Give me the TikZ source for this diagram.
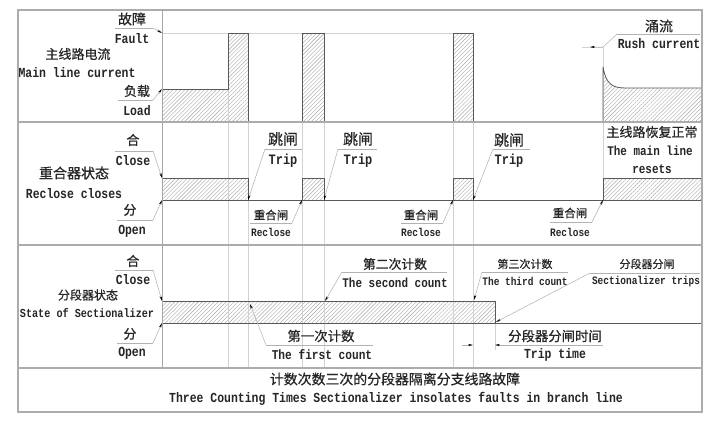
\documentclass[tikz,border=0pt]{standalone}
\usepackage{fontspec}
\setmonofont{Liberation Mono}[FakeStretch=0.83]
\newfontfamily\cjk{Noto Sans CJK SC}[FakeBold=0.6]
\usetikzlibrary{arrows.meta,patterns.meta}
\begin{document}
\begin{tikzpicture}[x=1pt,y=-1pt,
  frame/.style={draw=gray!65,line width=1.3pt},
  wave/.style={draw=black!65,line width=0.8pt},
  hatch/.style={pattern={Lines[angle=45,distance=2.8pt,line width=0.4pt]},pattern color=gray!70},
  gridln/.style={draw=gray!35,line width=0.5pt},
  ul/.style={draw=gray!60,line width=0.5pt},
  lead/.style={draw=gray!60,line width=0.5pt,-{Stealth[length=5pt,width=2.2pt,black]}},
  zh/.style={font=\cjk\fontsize{#1}{#1}\selectfont,inner sep=0pt,text=black!85},
  zh/.default=13,
  en/.style={font=\ttfamily\bfseries\fontsize{\fpeval{1.2*#1}}{\fpeval{1.2*#1}}\selectfont,inner sep=0pt,text=black!85},
  en/.default=11.5,
]
\useasboundingbox (0,0) rectangle (723,429);
\fill[white] (0,0) rectangle (723,429);

% ---------- hatched areas ----------
\fill[hatch] (162,122) -- (162,89) -- (228,89) -- (228,33) -- (248,33) -- (248,122) -- cycle;
\fill[hatch] (302,122) rectangle (324,33);
\fill[hatch] (453,122) rectangle (473,33);
\fill[hatch] (603,122) -- (603,67) .. controls (606,84) and (612,88) .. (626,88) -- (702,88) -- (702,122) -- cycle;
\fill[hatch] (162,178) rectangle (248,200);
\fill[hatch] (302,178) rectangle (324,200);
\fill[hatch] (453,178) rectangle (473,200);
\fill[hatch] (603,178) rectangle (702,200);
\fill[hatch] (162,301) rectangle (495,323);

% ---------- grid lines ----------
\foreach \gx in {228,248,302,324,453,473} {
  \draw[gridln] (\gx,33) -- (\gx,367);
}
\draw[gridln] (603,47) -- (603,200);
\draw[gridln] (495,323) -- (495,350);
\draw[gridln] (162,33) -- (473,33);

% ---------- waveforms ----------
\draw[wave] (162,89) -- (228,89) -- (228,33) -- (248,33) -- (248,122);
\draw[wave] (302,122) -- (302,33) -- (324,33) -- (324,122);
\draw[wave] (453,122) -- (453,33) -- (473,33) -- (473,122);
\draw[wave] (603,122) -- (603,67) .. controls (606,84) and (612,88) .. (626,88) -- (702,88);
\draw[wave] (162,178) -- (248,178) -- (248,200);
\draw[wave] (302,200) -- (302,178) -- (324,178) -- (324,200);
\draw[wave] (453,200) -- (453,178) -- (473,178) -- (473,200);
\draw[wave] (603,200) -- (603,178) -- (702,178);
\draw[wave] (162,200) -- (702,200);
\draw[wave] (162,301) -- (495,301) -- (495,323);
\draw[wave] (162,323) -- (702,323);

% ---------- frame ----------
\draw[frame] (18,10) rectangle (702,412);
\draw[frame] (18,122) -- (702,122);
\draw[frame] (18,245) -- (702,245);
\draw[frame] (18,368) -- (702,368);
\draw[draw=gray!70,line width=0.8pt] (162,10) -- (162,368);

% ---------- row 1 labels ----------
\node[zh] (l1) at (78,54) {主线路电流};
\node[en] (l1e) at (77,73) {Main line current};
\node[zh=14] (fz) at (132,19) {故障};
\node[en] (fe) at (132,39) {Fault};
\coordinate (fa) at (115,28); \coordinate (fb) at (153,28); \coordinate (ft) at (162,33);
\draw[ul] (fa) -- (fb);
\draw[lead] (fb) -- (ft);
\node[zh] (lz) at (137,91) {负载};
\node[en] (le) at (137,111) {Load};
\coordinate (la) at (118,100); \coordinate (lb) at (153,100); \coordinate (lt) at (162,89);
\draw[ul] (la) -- (lb);
\draw[lead] (lb) -- (lt);
\node[zh=14] (rz) at (659,26) {涌流};
\node[en] (re) at (659,44) {Rush current};
\coordinate (ra) at (617,34); \coordinate (rb) at (700,34);
\coordinate (rc) at (603,47); \coordinate (rd) at (590,47); \coordinate (rf) at (582,47);
\draw[ul] (ra) -- (rb);
\draw[gridln] (rc) -- (rf);
\draw[lead] (ra) -- (rc) -- (rd);

% ---------- row 2 labels ----------
\node[zh=14] (r2) at (74,173) {重合器状态};
\node[en] (r2e) at (74,194) {Reclose closes};
\node[zh] (c2z) at (133,140) {合};
\node[en] (c2e) at (133,161) {Close};
\coordinate (c2a) at (115,151); \coordinate (c2b) at (153,151); \coordinate (c2t) at (162,178);
\draw[ul] (c2a) -- (c2b);
\draw[lead] (c2b) -- (c2t);
\node[zh] (o2z) at (130,210) {分};
\node[en] (o2e) at (132,231) {Open};
\coordinate (o2a) at (117,220); \coordinate (o2b) at (153,220); \coordinate (o2t) at (162,200);
\draw[ul] (o2a) -- (o2b);
\draw[lead] (o2b) -- (o2t);

\node[zh=15] (t1z) at (283,139) {跳闸};
\node[en=12] (t1e) at (283,161) {Trip};
\coordinate (t1a) at (265,149); \coordinate (t1b) at (302,149); \coordinate (t1t) at (248,200);
\draw[ul] (t1a) -- (t1b);
\draw[lead] (t1a) -- (t1t);
\node[zh=15] (t2z) at (358,139) {跳闸};
\node[en=12] (t2e) at (358,161) {Trip};
\coordinate (t2a) at (338,149); \coordinate (t2b) at (377,149); \coordinate (t2t) at (324,200);
\draw[ul] (t2a) -- (t2b);
\draw[lead] (t2a) -- (t2t);
\node[zh=15] (t3z) at (509,140) {跳闸};
\node[en=12] (t3e) at (509,161) {Trip};
\coordinate (t3a) at (493,149); \coordinate (t3b) at (530,149); \coordinate (t3t) at (473,200);
\draw[ul] (t3a) -- (t3b);
\draw[lead] (t3a) -- (t3t);

\node[zh=11.5] (k1z) at (271,215) {重合闸};
\node[en=9.5] (k1e) at (271,232) {Reclose};
\coordinate (k1a) at (250,223); \coordinate (k1b) at (292,223); \coordinate (k1t) at (302,200);
\draw[ul] (k1a) -- (k1b);
\draw[lead] (k1b) -- (k1t);
\node[zh=11.5] (k2z) at (421,215) {重合闸};
\node[en=9.5] (k2e) at (421,232) {Reclose};
\coordinate (k2a) at (401,223); \coordinate (k2b) at (443,223); \coordinate (k2t) at (453,200);
\draw[ul] (k2a) -- (k2b);
\draw[lead] (k2b) -- (k2t);
\node[zh=11.5] (k3z) at (570,213) {重合闸};
\node[en=9.5] (k3e) at (570,232) {Reclose};
\coordinate (k3a) at (550,222); \coordinate (k3b) at (592,222); \coordinate (k3t) at (603,200);
\draw[ul] (k3a) -- (k3b);
\draw[lead] (k3b) -- (k3t);

\node[zh=13] (mz) at (652,132) {主线路恢复正常};
\node[en=11] (me1) at (650,151) {The main line};
\node[en=11] (me2) at (652,169) {resets};

% ---------- row 3 labels ----------
\node[zh=12] (r3) at (88,295) {分段器状态};
\node[en=10.2] (r3e) at (87,313) {State of Sectionalizer};
\node[zh] (c3z) at (133,261) {合};
\node[en] (c3e) at (133,280) {Close};
\coordinate (c3a) at (115,270); \coordinate (c3b) at (153,270); \coordinate (c3t) at (162,301);
\draw[ul] (c3a) -- (c3b);
\draw[lead] (c3b) -- (c3t);
\node[zh] (o3z) at (130,334) {分};
\node[en] (o3e) at (132,353) {Open};
\coordinate (o3a) at (117,343); \coordinate (o3b) at (153,343); \coordinate (o3t) at (162,323);
\draw[ul] (o3a) -- (o3b);
\draw[lead] (o3b) -- (o3t);

\node[zh=12.8] (s2z) at (395,264) {第二次计数};
\node[en=11] (s2e) at (395,283) {The second count};
\coordinate (s2a) at (342,272); \coordinate (s2b) at (447,272); \coordinate (s2t) at (325,301);
\draw[ul] (s2a) -- (s2b);
\draw[lead] (s2a) -- (s2t);
\node[zh=13.4] (s1z) at (321,336) {第一次计数};
\node[en=11.2] (s1e) at (322,355) {The first count};
\coordinate (s1a) at (266,345); \coordinate (s1b) at (373,345); \coordinate (s1t) at (250,304);
\draw[ul] (s1a) -- (s1b);
\draw[lead] (s1a) -- (s1t);
\node[zh=11] (s3z) at (525,264) {第三次计数};
\node[en=9.5] (s3e) at (525,281) {The third count};
\coordinate (s3a) at (482,272); \coordinate (s3b) at (568,272); \coordinate (s3t) at (474,300);
\draw[ul] (s3a) -- (s3b);
\draw[lead] (s3a) -- (s3t);
\node[zh=11] (sfz) at (647,264) {分段器分闸};
\node[en=9.5] (sfe) at (646,282) {Sectionalizer trips};
\coordinate (sfa) at (590,273); \coordinate (sfb) at (700,273); \coordinate (sft) at (496,322);
\draw[ul] (sfa) -- (sfb);
\draw[lead] (sfa) -- (sft);
\node[zh=13.4] (ttz) at (555,336) {分段器分闸时间};
\node[en=11.5] (tte) at (555,355) {Trip time};
\coordinate (tta) at (505,345); \coordinate (ttb) at (603,345);
\coordinate (ttl) at (473,345); \coordinate (ttr) at (495,345); \coordinate (ttm) at (462,345);
\draw[ul] (tta) -- (ttb);
\draw[lead] (tta) -- (ttr);
\draw[lead] (ttm) -- (ttl);

% ---------- caption row ----------
\node[zh=13.9] (capz) at (395,379) {计数次数三次的分段器隔离分支线路故障};
\node[en=11.5] (cape) at (396,399) {Three Counting Times Sectionalizer insolates faults in branch line};
\end{tikzpicture}
\end{document}
